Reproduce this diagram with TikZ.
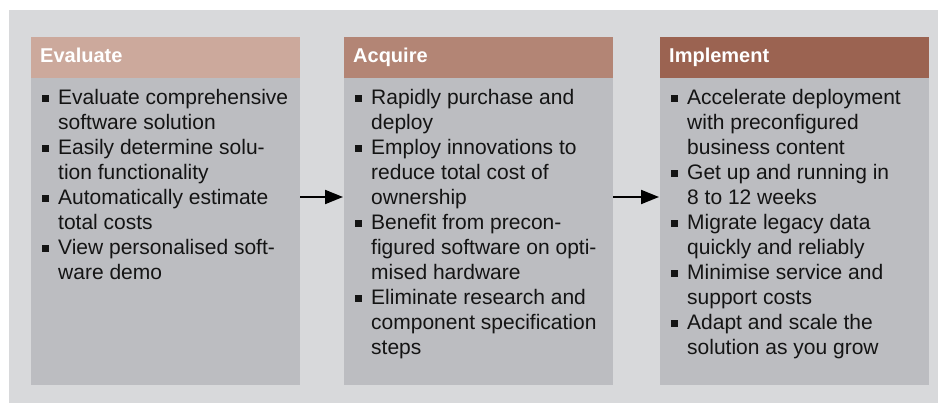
\documentclass[tikz,border=0pt]{standalone}
\usepackage{fontspec}
\setmainfont{Liberation Sans}
\usetikzlibrary{arrows.meta}
\definecolor{bgc}{HTML}{D8D9DB}
\definecolor{bodyc}{HTML}{BCBDC1}
\definecolor{hdA}{HTML}{CCA99C}
\definecolor{hdB}{HTML}{B38575}
\definecolor{hdC}{HTML}{9B6351}
\definecolor{txt}{HTML}{141414}
\newcommand\bitem[1]{\hbox{\hbox to 27pt{\hskip11pt\rule[2pt]{7pt}{7pt}\hss}#1}}
\newcommand\citem[1]{\hbox{\hskip27pt #1}}
\tikzset{
  bodybox/.style={fill=bodyc, draw=none, inner sep=0pt, anchor=north west},
  hdbox/.style={draw=none, inner sep=0pt, anchor=north west, minimum width=269pt, minimum height=41pt},
  hdtext/.style={text=white, font=\fontsize{20}{22}\selectfont\bfseries, inner sep=0pt, anchor=base west},
  bodytext/.style={text=txt, inner sep=0pt, anchor=base west},
  arr/.style={line width=2pt, -{Triangle[length=18pt,width=14pt]}}
}
\begin{document}
\begin{tikzpicture}[x=1pt,y=-1pt]
\useasboundingbox (0,0) rectangle (938,403);
\fill[bgc] (9,10) rectangle (938,403);
% boxes
\node[bodybox, minimum width=269pt, minimum height=348pt] (b1) at (31,37) {};
\node[bodybox, minimum width=269pt, minimum height=348pt] (b2) at (344,37) {};
\node[bodybox, minimum width=269pt, minimum height=348pt] (b3) at (660,37) {};
\node[hdbox, fill=hdA] (h1) at (31,37) {};
\node[hdbox, fill=hdB] (h2) at (344,37) {};
\node[hdbox, fill=hdC] (h3) at (660,37) {};
\node[hdtext] (t1) at (40,62.5) {Evaluate};
\node[hdtext] (t2) at (353,62.5) {Acquire};
\node[hdtext] (t3) at (669,62.5) {Implement};
% body texts
\node[bodytext] (x1) at (31,104.5) {\vtop{\fontsize{21}{25}\selectfont\baselineskip=25pt
\bitem{Evaluate comprehensive}
\citem{software solution}
\bitem{Easily determine solu-}
\citem{tion functionality}
\bitem{Automatically estimate}
\citem{total costs}
\bitem{View personalised soft-}
\citem{ware demo}}};
\node[bodytext] (x2) at (344,104.5) {\vtop{\fontsize{21}{25}\selectfont\baselineskip=25pt
\bitem{Rapidly purchase and}
\citem{deploy}
\bitem{Employ innovations to}
\citem{reduce total cost of}
\citem{ownership}
\bitem{Benefit from precon-}
\citem{figured software on opti-}
\citem{mised hardware}
\bitem{Eliminate research and}
\citem{component specification}
\citem{steps}}};
\node[bodytext] (x3) at (660,104.5) {\vtop{\fontsize{21}{25}\selectfont\baselineskip=25pt
\bitem{Accelerate deployment}
\citem{with preconfigured}
\citem{business content}
\bitem{Get up and running in}
\citem{8 to 12 weeks}
\bitem{Migrate legacy data}
\citem{quickly and reliably}
\bitem{Minimise service and}
\citem{support costs}
\bitem{Adapt and scale the}
\citem{solution as you grow}}};
% arrows
\coordinate (ay) at (0,197);
\draw[arr] (b1.east |- ay) -- ([xshift=-1pt]b2.west |- ay);
\draw[arr] (b2.east |- ay) -- ([xshift=-1pt]b3.west |- ay);
\end{tikzpicture}
\end{document}
